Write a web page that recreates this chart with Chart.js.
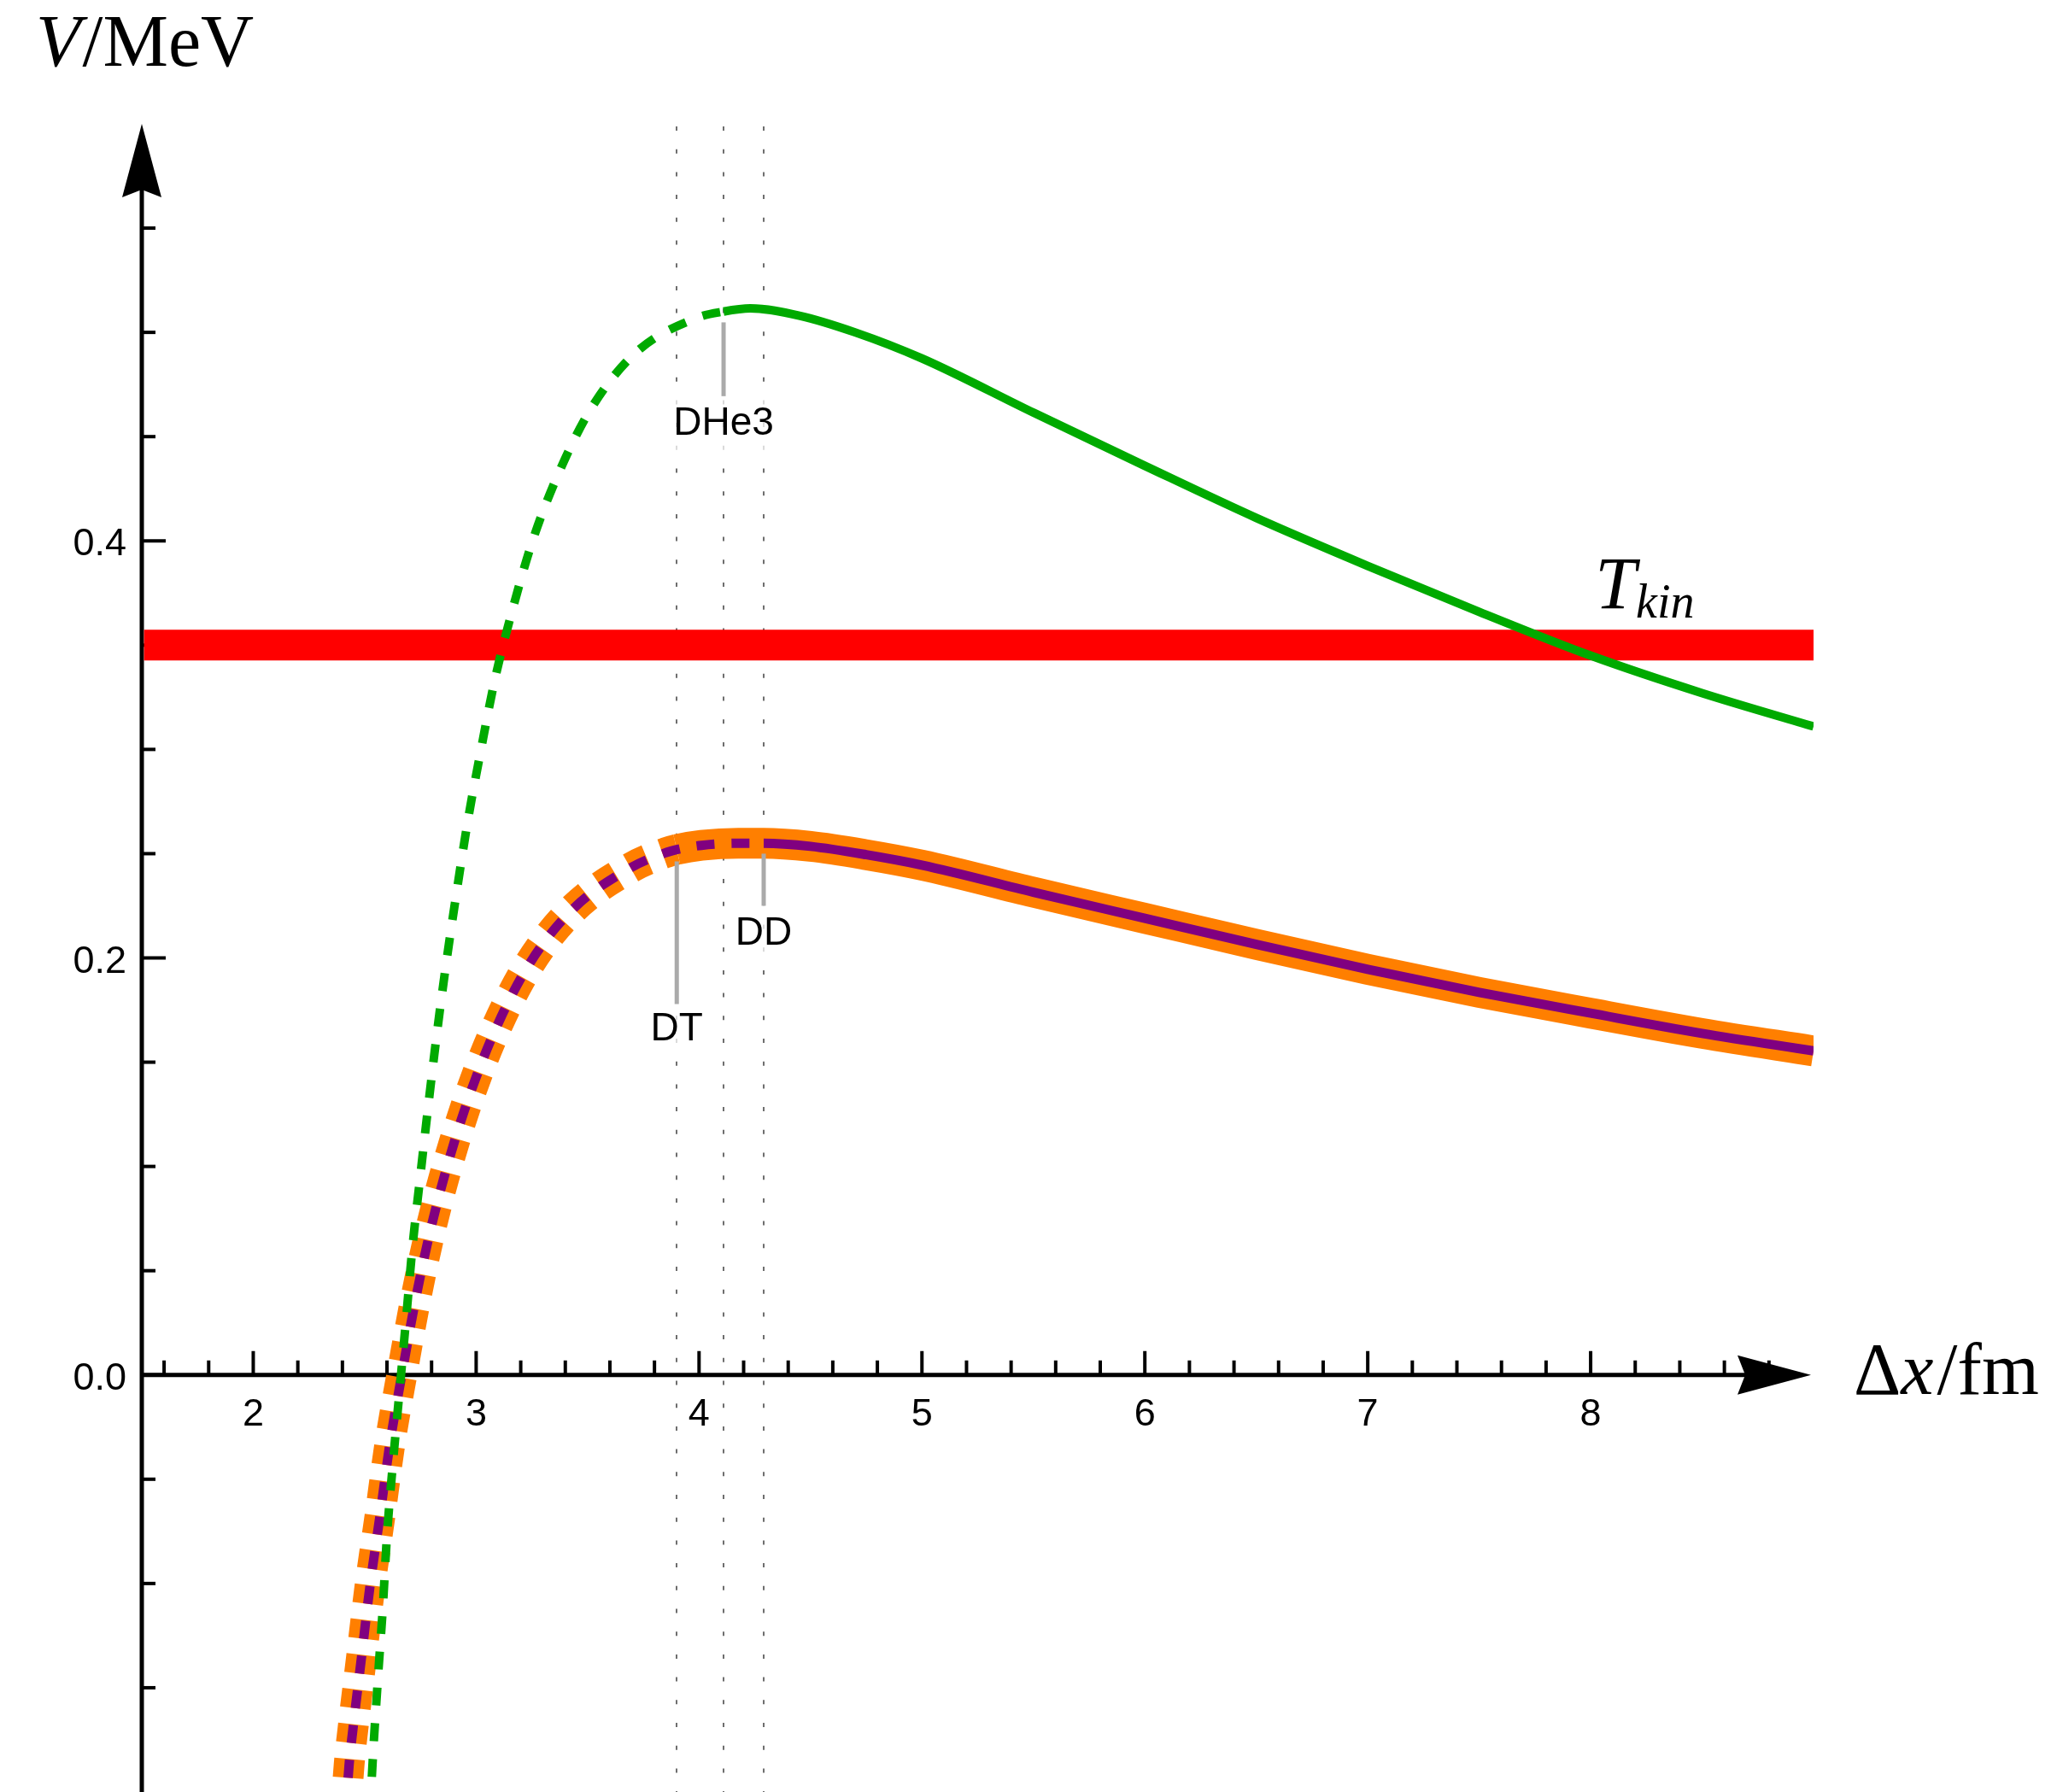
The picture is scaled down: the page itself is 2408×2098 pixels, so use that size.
<!DOCTYPE html>
<html>
<head>
<meta charset="utf-8">
<title>Barrier potentials</title>
<script src="https://cdn.jsdelivr.net/npm/chart.js@4.4.1/dist/chart.umd.min.js"></script>
<style>
  html, body { margin: 0; padding: 0; background: #fff; }
  canvas { display: block; }
</style>
</head>
<body>
<canvas id="chart" width="2408" height="2098"></canvas>
<script>
// D-He3 potential (green), dashed inside the turning point
const dheX = [2.525, 2.53, 2.559, 2.581, 2.600, 2.626, 2.656, 2.685, 2.714, 2.749, 2.785, 2.823, 2.865, 2.913, 2.963, 3.021, 3.085, 3.163, 3.253, 3.368, 3.513, 3.713, 3.99, 4.11, 4.23, 4.45, 4.7, 5.0, 5.5, 6.0, 6.5, 7.0, 7.5, 8.0, 8.5, 9.0];
const dheV = [-0.21, -0.197, -0.146, -0.112, -0.077, -0.043, -0.008, 0.026, 0.061, 0.095, 0.129, 0.163, 0.197, 0.232, 0.266, 0.2995, 0.334, 0.367, 0.400, 0.432, 0.463, 0.490, 0.507, 0.510, 0.5115, 0.508, 0.500, 0.4875, 0.4615, 0.436, 0.411, 0.388, 0.366, 0.345, 0.327, 0.311];
const dheDashEnd = 4.11;

// D-T potential (orange, thick)
const dtX = [2.415, 2.43, 2.447, 2.486, 2.524, 2.568, 2.613, 2.668, 2.726, 2.794, 2.875, 2.970, 3.092, 3.238, 3.43, 3.698, 3.851, 3.9, 4.011, 4.176, 4.29, 4.5, 4.75, 5.0, 5.5, 6.0, 6.5, 7.0, 7.5, 8.0, 8.5, 9.0];
const dtV = [-0.21, -0.187, -0.170, -0.135, -0.101, -0.068, -0.033, 0.001, 0.035, 0.069, 0.102, 0.134, 0.167, 0.197, 0.223, 0.2435, 0.2505, 0.252, 0.254, 0.255, 0.255, 0.2535, 0.2495, 0.2445, 0.2315, 0.219, 0.2065, 0.1945, 0.1835, 0.1735, 0.1638, 0.1554];
const dtDashEnd = 3.9;

// D-D potential (purple)
const ddX = [2.415, 2.43, 2.447, 2.486, 2.524, 2.568, 2.613, 2.668, 2.726, 2.794, 2.875, 2.970, 3.092, 3.238, 3.43, 3.698, 3.851, 3.9, 4.011, 4.176, 4.29, 4.5, 4.75, 5.0, 5.5, 6.0, 6.5, 7.0, 7.5, 8.0, 8.5, 9.0];
const ddV = [-0.21, -0.187, -0.170, -0.135, -0.101, -0.068, -0.033, 0.001, 0.035, 0.069, 0.102, 0.134, 0.167, 0.197, 0.223, 0.2435, 0.2505, 0.252, 0.254, 0.255, 0.255, 0.2535, 0.2495, 0.2445, 0.2315, 0.219, 0.2065, 0.1945, 0.1835, 0.1735, 0.1638, 0.1554];
const ddDashEnd = 4.29;

// kinetic energy level
const tkinX = [1.51, 9.0];
const tkinV = [0.35, 0.35];

// callouts: name, x, pointer top/bottom, label centre
const calloutNames = ['DT', 'DHe3', 'DD'];
const calloutX = [3.9, 4.11, 4.29];
const calloutTop = [0.2463, 0.5048, 0.250];
const calloutBottom = [0.1779, 0.4694, 0.225];
const calloutLabelY = [0.1656, 0.456, 0.2117];

// ticks
const xMajorTicks = [2, 3, 4, 5, 6, 7, 8];
const xTickLabels = ['2', '3', '4', '5', '6', '7', '8'];
const yMajorTicks = [0, 0.2, 0.4];
const yTickLabels = ['0.0', '0.2', '0.4'];

const xMin = 1.5, xMax = 9.0, yMin = -0.2, yMax = 0.6;

function pts(xs, ys) {
    return xs.map((x, i) => ({ x: x, y: ys[i] }));
}

function dashBefore(cut, pattern) {
    return ctx => (ctx.p1.parsed.x <= cut + 1e-9 ? pattern : undefined);
}

function arrowHead(ctx, tipX, tipY, dirX, dirY) {
    // arrow with a small notch at the base
    const len = 86, half = 23, notch = 9;
    const px = -dirY, py = dirX;
    ctx.beginPath();
    ctx.moveTo(tipX, tipY);
    ctx.lineTo(tipX - dirX * len + px * half, tipY - dirY * len + py * half);
    ctx.lineTo(tipX - dirX * (len - notch), tipY - dirY * (len - notch));
    ctx.lineTo(tipX - dirX * len - px * half, tipY - dirY * len - py * half);
    ctx.closePath();
    ctx.fill();
}

const axesPlugin = {
    id: 'axes',
    beforeDraw(chart) {
        const ctx = chart.ctx;
        ctx.save();
        ctx.fillStyle = '#fff';
        ctx.fillRect(0, 0, chart.width, chart.height);
        ctx.restore();
    },
    beforeDatasetsDraw(chart) {
        const { ctx, scales: { x, y } } = chart;
        const ax = x.getPixelForValue(xMin);
        const ay = y.getPixelForValue(0);
        ctx.save();

        // dotted guide lines at the turning points
        ctx.strokeStyle = '#6e6e6e';
        ctx.lineWidth = 2;
        ctx.setLineDash([5, 21.7]);
        calloutX.forEach(v => {
            const px = Math.round(x.getPixelForValue(v));
            ctx.beginPath();
            ctx.moveTo(px, y.getPixelForValue(yMax) + 3);
            ctx.lineTo(px, y.getPixelForValue(yMin));
            ctx.stroke();
        });
        ctx.setLineDash([]);

        ctx.strokeStyle = '#000';
        ctx.fillStyle = '#000';

        // axes lines
        ctx.lineWidth = 5;
        ctx.beginPath();
        ctx.moveTo(ax, y.getPixelForValue(yMin));
        ctx.lineTo(ax, y.getPixelForValue(yMax) + 60);
        ctx.moveTo(ax, ay);
        ctx.lineTo(x.getPixelForValue(xMax) - 60, ay);
        ctx.stroke();

        // x ticks
        ctx.lineWidth = 4;
        for (let i = 8; i <= 44; i++) {
            const px = x.getPixelForValue(i / 5);
            const major = i % 5 === 0;
            ctx.beginPath();
            ctx.moveTo(px, ay);
            ctx.lineTo(px, ay - (major ? 28 : 17));
            ctx.stroke();
        }
        // y ticks
        for (let i = -3; i <= 11; i++) {
            const py = y.getPixelForValue(i / 20);
            const major = i % 4 === 0;
            ctx.beginPath();
            ctx.moveTo(ax, py);
            ctx.lineTo(ax + (major ? 28 : 16), py);
            ctx.stroke();
        }

        arrowHead(ctx, ax, y.getPixelForValue(yMax), 0, -1);
        arrowHead(ctx, x.getPixelForValue(xMax) - 3, ay, 1, 0);

        // tick labels
        ctx.font = '45px "Liberation Sans", Arial, sans-serif';
        ctx.textAlign = 'center';
        ctx.textBaseline = 'alphabetic';
        xMajorTicks.forEach((v, i) => {
            ctx.fillText(xTickLabels[i], x.getPixelForValue(v), ay + 59);
        });
        ctx.textAlign = 'right';
        yMajorTicks.forEach((v, i) => {
            ctx.fillText(yTickLabels[i], ax - 18, y.getPixelForValue(v) + 17);
        });

        // axis titles
        ctx.textAlign = 'left';
        let cx = 42;
        ctx.font = 'italic 86px "Liberation Serif", serif';
        ctx.fillText('V', cx, 77);
        cx += ctx.measureText('V').width + 2;
        ctx.font = '86px "Liberation Serif", serif';
        ctx.fillText('/MeV', cx, 77);

        cx = 2170;
        ctx.fillText('\u0394', cx, 1632);
        cx += ctx.measureText('\u0394').width;
        ctx.font = 'italic 86px "Liberation Serif", serif';
        ctx.fillText('x', cx, 1632);
        cx += ctx.measureText('x').width + 4;
        ctx.font = '86px "Liberation Serif", serif';
        ctx.fillText('/fm', cx, 1632);

        ctx.restore();
    },
    afterDatasetsDraw(chart) {
        const { ctx, scales: { x, y } } = chart;
        ctx.save();

        // T_kin label
        const tx = x.getPixelForValue(8.02);
        const ty = y.getPixelForValue(0.3677);
        ctx.fillStyle = '#000';
        ctx.textAlign = 'left';
        ctx.font = 'italic 86px "Liberation Serif", serif';
        ctx.fillText('T', tx, ty);
        const tw = ctx.measureText('T').width;
        ctx.font = 'italic 56px "Liberation Serif", serif';
        ctx.fillText('kin', tx + tw, ty + 11);

        // callouts
        ctx.font = '46px "Liberation Sans", Arial, sans-serif';
        calloutNames.forEach((name, i) => {
            const px = x.getPixelForValue(calloutX[i]);
            const ly = y.getPixelForValue(calloutLabelY[i]);
            const w = ctx.measureText(name).width;
            ctx.fillStyle = 'rgba(255,255,255,0.75)';
            ctx.fillRect(px - w / 2 - 10, ly - 36, w + 20, 72);
            ctx.strokeStyle = '#aaaaaa';
            ctx.lineWidth = 5;
            ctx.beginPath();
            ctx.moveTo(px, y.getPixelForValue(calloutTop[i]));
            ctx.lineTo(px, y.getPixelForValue(calloutBottom[i]));
            ctx.stroke();
            ctx.fillStyle = '#000';
            ctx.textAlign = 'center';
            ctx.textBaseline = 'middle';
            ctx.fillText(name, px, ly);
        });
        ctx.restore();
    }
};

const chart = new Chart(document.getElementById('chart'), {
    type: 'line',
    data: {
        datasets: [
            {
                label: 'DHe3',
                data: pts(dheX, dheV),
                borderColor: '#00AA00',
                borderWidth: 10,
                segment: { borderDash: dashBefore(dheDashEnd, [21, 21]) },
                order: 1
            },
            {
                label: 'DD',
                data: pts(ddX, ddV),
                borderColor: '#800080',
                borderWidth: 11,
                segment: { borderDash: dashBefore(ddDashEnd, [21, 20]) },
                order: 2
            },
            {
                label: 'DT',
                data: pts(dtX, dtV),
                borderColor: '#FF7F00',
                borderWidth: 36,
                segment: { borderDash: dashBefore(dtDashEnd, [22, 19]) },
                order: 3
            },
            {
                label: 'Tkin',
                data: pts(tkinX, tkinV),
                borderColor: '#FF0000',
                borderWidth: 36,
                cubicInterpolationMode: 'default',
                tension: 0,
                order: 4
            }
        ]
    },
    options: {
        responsive: false,
        animation: false,
        devicePixelRatio: 1,
        layout: { padding: { left: 166, right: 285, top: 145, bottom: 0 } },
        elements: {
            point: { radius: 0 },
            line: { cubicInterpolationMode: 'monotone', borderCapStyle: 'butt', fill: false }
        },
        scales: {
            x: { type: 'linear', min: xMin, max: xMax, display: false },
            y: { type: 'linear', min: yMin, max: yMax, display: false }
        },
        plugins: {
            legend: { display: false },
            tooltip: { enabled: false }
        }
    },
    plugins: [axesPlugin]
});
</script>
</body>
</html>
